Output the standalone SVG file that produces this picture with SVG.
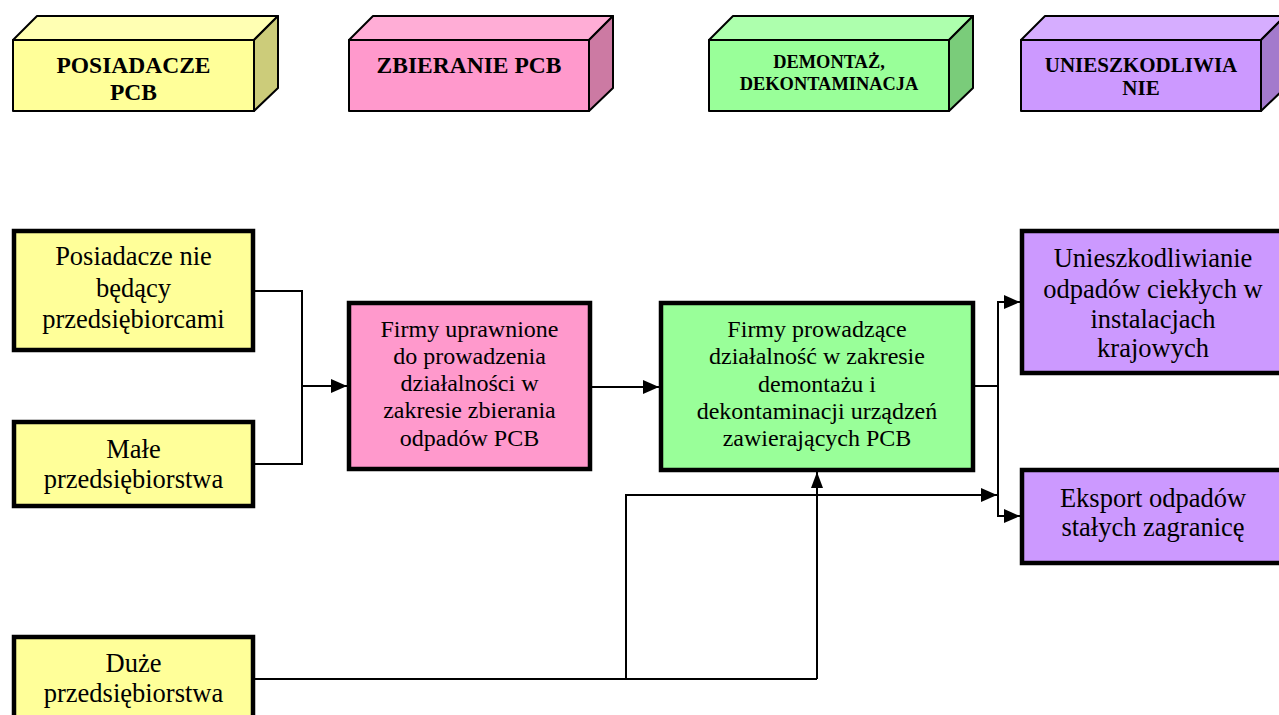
<svg xmlns="http://www.w3.org/2000/svg" width="1279" height="715" viewBox="0 0 1279 715">
<style>
.hdr{font-family:"Liberation Serif","Times New Roman",serif;font-weight:bold;text-anchor:middle;fill:#000}
.t26{font-family:"Liberation Serif","Times New Roman",serif;font-size:26.5px;text-anchor:middle;fill:#000}
.t24{font-family:"Liberation Serif","Times New Roman",serif;font-size:24px;text-anchor:middle;fill:#000}
.box{stroke:#000;stroke-width:4.5}
.face{stroke:#000;stroke-width:2;stroke-linejoin:round}
.conn{fill:none;stroke:#000;stroke-width:2}
</style>
<defs>
<marker id="ah" markerWidth="16" markerHeight="14" refX="16" refY="7" orient="auto" markerUnits="userSpaceOnUse">
<path d="M0,0 L16,7 L0,14 Z" fill="#000"/>
</marker>
<marker id="ahs" markerWidth="16" markerHeight="12" refX="16" refY="6" orient="auto" markerUnits="userSpaceOnUse">
<path d="M0,0 L16,6 L0,12 Z" fill="#000"/>
</marker>
</defs>
<rect width="1279" height="715" fill="#fff"/>

<g id="hdr-posiadacze">
<polygon class="face" points="13,40 37,16 278,16 254,40" fill="#FFFFB3"/>
<polygon class="face" points="254,40 278,16 278,88 254,111" fill="#CCCC7A"/>
<rect class="face" x="13" y="40" width="241" height="71" fill="#FFFF99"/>
<text class="hdr" font-size="23.5" x="133.5" y="73">POSIADACZE</text>
<text class="hdr" font-size="23.5" x="133.5" y="100">PCB</text>
</g>
<g id="hdr-zbieranie">
<polygon class="face" points="349,40 373,16 613,16 589,40" fill="#FFADD6"/>
<polygon class="face" points="589,40 613,16 613,88 589,111" fill="#CC7AA3"/>
<rect class="face" x="349" y="40" width="240" height="71" fill="#FF99CC"/>
<text class="hdr" font-size="23.5" x="469" y="73">ZBIERANIE PCB</text>
</g>
<g id="hdr-demontaz">
<polygon class="face" points="709,40 733,16 973,16 949,40" fill="#ADFFAD"/>
<polygon class="face" points="949,40 973,16 973,88 949,111" fill="#7ACC7A"/>
<rect class="face" x="709" y="40" width="240" height="71" fill="#99FF99"/>
<text class="hdr" font-size="18.4" x="829" y="68">DEMONTAŻ,</text>
<text class="hdr" font-size="18.4" x="829" y="90">DEKONTAMINACJA</text>
</g>
<g id="hdr-unieszkodliwianie">
<polygon class="face" points="1021,40 1045,16 1285,16 1261,40" fill="#D6ADFF"/>
<polygon class="face" points="1261,40 1285,16 1285,88 1261,111" fill="#A37ACC"/>
<rect class="face" x="1021" y="40" width="240" height="71" fill="#CC99FF"/>
<text class="hdr" font-size="21" x="1141" y="72">UNIESZKODLIWIA</text>
<text class="hdr" font-size="21" x="1141" y="95">NIE</text>
</g>

<g id="connectors">
<polyline class="conn" points="255,291 302,291 302,464 255,464"/>
<line class="conn" x1="302" y1="386" x2="347" y2="386" marker-end="url(#ah)"/>
<line class="conn" x1="592" y1="387" x2="659" y2="387" marker-end="url(#ah)"/>
<polyline class="conn" points="975,386 998,386"/>
<polyline class="conn" points="1019,302 998,302 998,516 1019,516"/>
<line class="conn" x1="998" y1="302" x2="1020" y2="302" marker-end="url(#ah)"/>
<line class="conn" x1="998" y1="516" x2="1020" y2="516" marker-end="url(#ah)"/>
<polyline class="conn" points="255,679 817,679"/>
<line class="conn" x1="817" y1="679" x2="817" y2="472" marker-end="url(#ahs)"/>
<polyline class="conn" points="626,679 626,495 980,495"/>
<line class="conn" x1="960" y1="495" x2="997" y2="495" marker-end="url(#ah)"/>
</g>

<g id="n-posiadacze-nie">
<rect class="box" x="14" y="231" width="239" height="119" fill="#FFFF99"/>
<text class="t26" x="133.5" y="265">Posiadacze nie</text>
<text class="t26" x="133.5" y="297">będący</text>
<text class="t26" x="133.5" y="328">przedsiębiorcami</text>
</g>
<g id="n-male">
<rect class="box" x="14" y="422" width="239" height="84" fill="#FFFF99"/>
<text class="t26" x="133.5" y="458">Małe</text>
<text class="t26" x="133.5" y="488">przedsiębiorstwa</text>
</g>
<g id="n-duze">
<rect class="box" x="14" y="637" width="239" height="90" fill="#FFFF99"/>
<text class="t26" x="133.5" y="672">Duże</text>
<text class="t26" x="133.5" y="702">przedsiębiorstwa</text>
</g>
<g id="n-zbieranie">
<rect class="box" x="349" y="303" width="241" height="166" fill="#FF99CC"/>
<text class="t24" x="469.5" y="337">Firmy uprawnione</text>
<text class="t24" x="469.5" y="364">do prowadzenia</text>
<text class="t24" x="469.5" y="391">działalności w</text>
<text class="t24" x="469.5" y="418">zakresie zbierania</text>
<text class="t24" x="469.5" y="446">odpadów PCB</text>
</g>
<g id="n-demontaz">
<rect class="box" x="661" y="303" width="312" height="167" fill="#99FF99"/>
<text class="t24" x="817" y="337">Firmy prowadzące</text>
<text class="t24" x="817" y="364">działalność w zakresie</text>
<text class="t24" x="817" y="392">demontażu i</text>
<text class="t24" x="817" y="419">dekontaminacji urządzeń</text>
<text class="t24" x="817" y="446">zawierających PCB</text>
</g>
<g id="n-unieszkodliwianie">
<rect class="box" x="1022" y="231" width="266" height="142" fill="#CC99FF"/>
<text class="t26" x="1153" y="267">Unieszkodliwianie</text>
<text class="t26" x="1153" y="298">odpadów ciekłych w</text>
<text class="t26" x="1153" y="328">instalacjach</text>
<text class="t26" x="1153" y="357">krajowych</text>
</g>
<g id="n-eksport">
<rect class="box" x="1022" y="470" width="266" height="93" fill="#CC99FF"/>
<text class="t26" x="1153" y="507">Eksport odpadów</text>
<text class="t26" x="1153" y="536">stałych zagranicę</text>
</g>
</svg>
